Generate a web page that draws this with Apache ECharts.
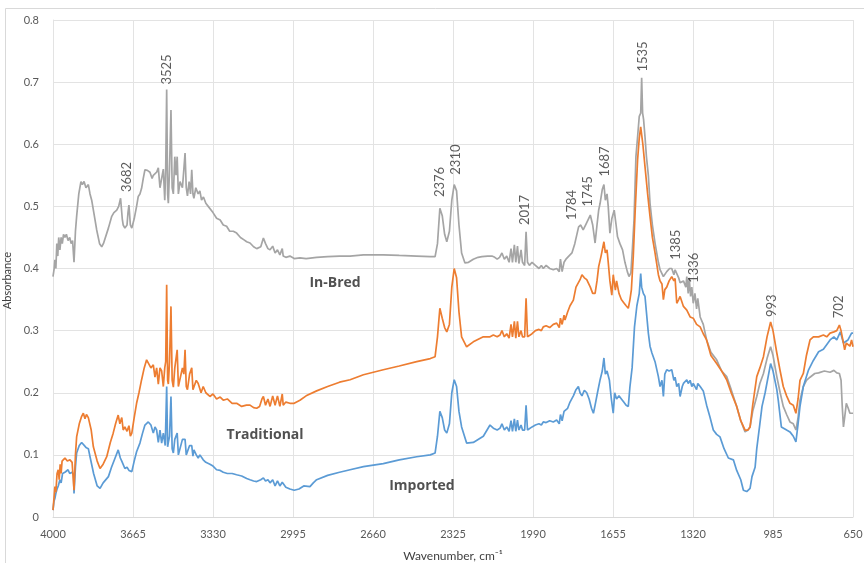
<!DOCTYPE html>
<html>
<head>
<meta charset="utf-8">
<script src="https://cdn.jsdelivr.net/npm/echarts@6/dist/echarts.min.js"></script>
<style>
html,body{margin:0;padding:0;background:#fff;}
#chart{width:864px;height:563px;}
</style>
</head>
<body>
<div id="chart"></div>
<script>
// ---------- data ----------
const xTickValues = [4000, 3665, 3330, 2995, 2660, 2325, 1990, 1655, 1320, 985, 650];
const yTickValues = [0, 0.1, 0.2, 0.3, 0.4, 0.5, 0.6, 0.7, 0.8];

const inBred = [[4000,0.387],[3995,0.40],[3992,0.414],[3988,0.40],[3984,0.44],[3980,0.42],[3976,0.45],[3971,0.43],[3966,0.45],[3961,0.44],[3956,0.455],[3950,0.45],[3944,0.455],[3937,0.445],[3930,0.45],[3924,0.44],[3918,0.445],[3912,0.41],[3906,0.46],[3901,0.484],[3892,0.52],[3883,0.54],[3877,0.535],[3870,0.54],[3862,0.53],[3852,0.535],[3845,0.52],[3838,0.51],[3827,0.485],[3817,0.462],[3805,0.44],[3796,0.435],[3789,0.44],[3782,0.44],[3768,0.465],[3754,0.484],[3745,0.49],[3733,0.494],[3725,0.50],[3717,0.513],[3710,0.48],[3706,0.47],[3699,0.465],[3690,0.47],[3686,0.49],[3682,0.502],[3676,0.47],[3670,0.465],[3660,0.48],[3650,0.50],[3643,0.516],[3636,0.52],[3629,0.529],[3622,0.545],[3615,0.559],[3605,0.558],[3594,0.555],[3585,0.545],[3580,0.55],[3573,0.548],[3566,0.555],[3559,0.562],[3552,0.53],[3545,0.527],[3538,0.56],[3532,0.51],[3528,0.56],[3524,0.688],[3520,0.52],[3517,0.505],[3512,0.56],[3506,0.655],[3501,0.53],[3496,0.52],[3490,0.58],[3485,0.55],[3480,0.58],[3475,0.52],[3468,0.54],[3458,0.53],[3452,0.56],[3447,0.586],[3442,0.53],[3437,0.517],[3430,0.54],[3424,0.52],[3419,0.559],[3414,0.52],[3410,0.513],[3402,0.53],[3392,0.52],[3385,0.525],[3378,0.51],[3370,0.515],[3360,0.505],[3350,0.50],[3343,0.497],[3330,0.49],[3315,0.481],[3300,0.478],[3287,0.47],[3273,0.468],[3260,0.46],[3245,0.46],[3231,0.457],[3215,0.45],[3200,0.446],[3189,0.443],[3175,0.441],[3160,0.435],[3147,0.432],[3130,0.435],[3119,0.449],[3110,0.44],[3100,0.432],[3091,0.43],[3080,0.436],[3070,0.425],[3060,0.43],[3050,0.422],[3040,0.432],[3036,0.42],[3025,0.418],[3008,0.42],[2990,0.416],[2966,0.417],[2940,0.416],[2896,0.418],[2850,0.419],[2800,0.42],[2756,0.42],[2700,0.422],[2617,0.422],[2550,0.421],[2477,0.42],[2420,0.419],[2400,0.419],[2390,0.44],[2380,0.497],[2370,0.485],[2360,0.455],[2351,0.443],[2340,0.46],[2330,0.51],[2320,0.535],[2310,0.525],[2300,0.47],[2289,0.425],[2275,0.409],[2260,0.41],[2240,0.415],[2220,0.418],[2204,0.419],[2180,0.42],[2162,0.42],[2150,0.418],[2140,0.415],[2130,0.418],[2120,0.425],[2110,0.415],[2100,0.42],[2090,0.41],[2082,0.432],[2076,0.41],[2068,0.438],[2062,0.41],[2055,0.436],[2049,0.408],[2040,0.43],[2034,0.41],[2025,0.405],[2019,0.459],[2013,0.41],[2005,0.405],[1994,0.41],[1980,0.405],[1965,0.40],[1955,0.405],[1947,0.40],[1935,0.405],[1920,0.40],[1905,0.398],[1891,0.40],[1880,0.395],[1875,0.415],[1868,0.395],[1860,0.41],[1852,0.415],[1840,0.42],[1827,0.425],[1815,0.44],[1799,0.467],[1790,0.47],[1780,0.462],[1770,0.47],[1760,0.478],[1750,0.486],[1740,0.47],[1730,0.441],[1722,0.47],[1715,0.494],[1709,0.505],[1700,0.527],[1693,0.535],[1687,0.51],[1680,0.52],[1675,0.50],[1668,0.457],[1660,0.48],[1650,0.494],[1642,0.47],[1636,0.451],[1626,0.44],[1615,0.43],[1605,0.41],[1595,0.395],[1588,0.387],[1580,0.393],[1574,0.43],[1567,0.478],[1559,0.58],[1552,0.612],[1545,0.645],[1539,0.65],[1535,0.707],[1531,0.65],[1527,0.64],[1521,0.612],[1515,0.58],[1507,0.55],[1500,0.505],[1490,0.47],[1479,0.441],[1465,0.41],[1458,0.398],[1444,0.387],[1430,0.395],[1418,0.40],[1409,0.40],[1400,0.39],[1395,0.398],[1388,0.40],[1380,0.385],[1374,0.377],[1360,0.38],[1350,0.37],[1346,0.387],[1340,0.36],[1336,0.385],[1330,0.355],[1325,0.37],[1319,0.344],[1312,0.36],[1305,0.335],[1300,0.352],[1290,0.322],[1277,0.31],[1263,0.285],[1245,0.265],[1221,0.253],[1200,0.235],[1179,0.226],[1160,0.205],[1137,0.178],[1120,0.155],[1102,0.137],[1090,0.14],[1081,0.145],[1070,0.17],[1053,0.194],[1040,0.215],[1025,0.231],[1010,0.255],[995,0.274],[985,0.26],[969,0.226],[955,0.20],[942,0.178],[928,0.165],[914,0.153],[900,0.15],[889,0.14],[880,0.16],[872,0.188],[858,0.21],[845,0.22],[830,0.225],[810,0.231],[794,0.232],[770,0.235],[746,0.233],[730,0.236],[718,0.232],[707,0.231],[700,0.22],[695,0.178],[690,0.145],[685,0.16],[678,0.183],[670,0.175],[663,0.167],[656,0.17],[650,0.167]];

const traditional = [[4000,0.011],[3996,0.03],[3992,0.049],[3988,0.04],[3983,0.07],[3978,0.076],[3974,0.06],[3970,0.085],[3966,0.07],[3962,0.09],[3958,0.092],[3950,0.095],[3940,0.09],[3929,0.092],[3920,0.088],[3914,0.085],[3912,0.043],[3906,0.10],[3901,0.129],[3890,0.15],[3880,0.162],[3873,0.167],[3866,0.158],[3860,0.165],[3852,0.16],[3840,0.14],[3831,0.113],[3815,0.09],[3803,0.078],[3790,0.085],[3775,0.097],[3760,0.12],[3748,0.135],[3738,0.15],[3727,0.164],[3720,0.15],[3712,0.16],[3706,0.14],[3699,0.145],[3690,0.138],[3682,0.147],[3676,0.13],[3670,0.135],[3660,0.16],[3650,0.183],[3640,0.20],[3629,0.221],[3618,0.24],[3608,0.253],[3600,0.25],[3590,0.24],[3580,0.245],[3573,0.225],[3566,0.24],[3559,0.214],[3552,0.24],[3545,0.235],[3538,0.21],[3532,0.24],[3528,0.25],[3524,0.374],[3520,0.22],[3517,0.214],[3512,0.25],[3506,0.339],[3501,0.22],[3496,0.209],[3490,0.24],[3480,0.269],[3475,0.21],[3468,0.209],[3458,0.24],[3452,0.23],[3447,0.269],[3442,0.21],[3437,0.205],[3428,0.23],[3419,0.24],[3414,0.205],[3410,0.204],[3400,0.22],[3392,0.215],[3380,0.20],[3371,0.21],[3360,0.20],[3343,0.194],[3330,0.198],[3315,0.19],[3300,0.193],[3287,0.188],[3270,0.19],[3250,0.183],[3231,0.183],[3210,0.178],[3190,0.18],[3175,0.18],[3160,0.176],[3147,0.175],[3135,0.178],[3125,0.19],[3119,0.194],[3110,0.18],[3100,0.19],[3091,0.178],[3080,0.195],[3070,0.18],[3060,0.195],[3050,0.178],[3040,0.198],[3036,0.18],[3025,0.185],[3008,0.183],[2990,0.183],[2966,0.188],[2940,0.195],[2896,0.203],[2850,0.21],[2800,0.217],[2756,0.221],[2700,0.229],[2617,0.237],[2550,0.243],[2477,0.25],[2420,0.255],[2400,0.258],[2390,0.29],[2380,0.336],[2370,0.32],[2360,0.305],[2351,0.298],[2340,0.31],[2330,0.37],[2320,0.40],[2310,0.385],[2300,0.33],[2289,0.29],[2268,0.274],[2240,0.282],[2198,0.29],[2170,0.29],[2156,0.293],[2140,0.29],[2128,0.293],[2120,0.30],[2110,0.29],[2100,0.295],[2090,0.288],[2082,0.31],[2076,0.29],[2068,0.315],[2062,0.288],[2055,0.315],[2049,0.29],[2040,0.30],[2034,0.29],[2025,0.29],[2019,0.352],[2013,0.29],[2005,0.29],[1994,0.295],[1980,0.30],[1965,0.302],[1955,0.30],[1947,0.306],[1935,0.308],[1920,0.305],[1905,0.31],[1891,0.312],[1880,0.305],[1875,0.32],[1868,0.31],[1860,0.325],[1856,0.317],[1845,0.33],[1835,0.34],[1821,0.349],[1810,0.37],[1793,0.382],[1785,0.39],[1775,0.385],[1765,0.382],[1750,0.37],[1740,0.36],[1730,0.36],[1722,0.38],[1715,0.403],[1705,0.42],[1693,0.443],[1687,0.425],[1680,0.43],[1675,0.41],[1668,0.38],[1660,0.357],[1654,0.39],[1645,0.365],[1640,0.38],[1630,0.36],[1620,0.35],[1610,0.345],[1600,0.34],[1591,0.336],[1584,0.35],[1578,0.366],[1570,0.42],[1562,0.494],[1552,0.575],[1545,0.61],[1539,0.628],[1535,0.63],[1530,0.60],[1521,0.564],[1510,0.52],[1500,0.484],[1490,0.45],[1479,0.425],[1465,0.39],[1458,0.38],[1450,0.375],[1444,0.35],[1438,0.366],[1430,0.37],[1420,0.38],[1409,0.387],[1400,0.38],[1395,0.384],[1388,0.344],[1380,0.35],[1374,0.355],[1360,0.339],[1346,0.333],[1332,0.322],[1319,0.32],[1305,0.31],[1290,0.306],[1277,0.295],[1263,0.285],[1245,0.26],[1221,0.247],[1200,0.235],[1179,0.221],[1160,0.20],[1137,0.178],[1120,0.155],[1102,0.14],[1090,0.14],[1081,0.145],[1070,0.18],[1053,0.226],[1040,0.24],[1025,0.258],[1010,0.29],[995,0.314],[985,0.30],[969,0.264],[955,0.235],[942,0.21],[928,0.195],[914,0.183],[900,0.18],[889,0.167],[880,0.19],[872,0.22],[858,0.231],[845,0.26],[830,0.285],[816,0.29],[794,0.29],[774,0.293],[760,0.29],[746,0.296],[730,0.298],[718,0.30],[707,0.309],[700,0.30],[690,0.28],[685,0.269],[678,0.28],[671,0.28],[663,0.275],[656,0.285],[650,0.274]];

const imported = [[4000,0.011],[3996,0.025],[3992,0.03],[3988,0.038],[3983,0.045],[3978,0.05],[3971,0.06],[3966,0.055],[3960,0.07],[3950,0.072],[3937,0.076],[3930,0.07],[3920,0.072],[3914,0.068],[3912,0.038],[3906,0.08],[3901,0.103],[3890,0.115],[3880,0.12],[3873,0.119],[3862,0.112],[3852,0.11],[3845,0.097],[3830,0.07],[3815,0.05],[3803,0.046],[3790,0.055],[3768,0.065],[3755,0.08],[3740,0.095],[3727,0.108],[3718,0.095],[3712,0.09],[3699,0.078],[3690,0.08],[3682,0.075],[3670,0.073],[3660,0.09],[3650,0.105],[3636,0.119],[3625,0.135],[3615,0.148],[3601,0.153],[3590,0.148],[3580,0.135],[3573,0.145],[3566,0.14],[3559,0.12],[3552,0.14],[3545,0.119],[3538,0.135],[3530,0.115],[3524,0.21],[3520,0.113],[3517,0.12],[3512,0.13],[3506,0.194],[3501,0.11],[3496,0.103],[3490,0.125],[3480,0.135],[3475,0.10],[3468,0.103],[3458,0.125],[3447,0.125],[3442,0.10],[3437,0.10],[3428,0.115],[3419,0.115],[3414,0.098],[3410,0.108],[3400,0.10],[3392,0.095],[3385,0.10],[3371,0.092],[3360,0.088],[3343,0.085],[3330,0.082],[3315,0.076],[3300,0.075],[3287,0.072],[3270,0.07],[3250,0.07],[3231,0.068],[3210,0.066],[3189,0.062],[3175,0.06],[3160,0.058],[3147,0.057],[3130,0.06],[3119,0.063],[3110,0.058],[3100,0.06],[3091,0.055],[3080,0.06],[3070,0.05],[3060,0.058],[3050,0.05],[3040,0.056],[3036,0.054],[3025,0.048],[3008,0.045],[2990,0.043],[2970,0.045],[2950,0.05],[2924,0.049],[2910,0.055],[2896,0.06],[2850,0.067],[2800,0.072],[2756,0.076],[2700,0.081],[2617,0.086],[2550,0.092],[2477,0.097],[2420,0.10],[2400,0.103],[2390,0.13],[2380,0.17],[2370,0.16],[2360,0.14],[2351,0.135],[2340,0.15],[2330,0.20],[2320,0.221],[2310,0.21],[2300,0.17],[2289,0.145],[2268,0.119],[2240,0.12],[2198,0.13],[2170,0.148],[2156,0.143],[2140,0.14],[2128,0.143],[2120,0.15],[2110,0.14],[2100,0.145],[2090,0.138],[2082,0.155],[2076,0.138],[2068,0.158],[2062,0.138],[2055,0.156],[2049,0.14],[2040,0.148],[2034,0.14],[2025,0.14],[2019,0.18],[2013,0.14],[2005,0.142],[1994,0.145],[1980,0.148],[1965,0.15],[1955,0.148],[1947,0.153],[1935,0.152],[1920,0.155],[1905,0.153],[1891,0.156],[1880,0.15],[1875,0.165],[1868,0.155],[1860,0.17],[1856,0.168],[1845,0.175],[1835,0.185],[1821,0.195],[1810,0.205],[1800,0.21],[1793,0.20],[1785,0.195],[1775,0.204],[1765,0.20],[1755,0.19],[1745,0.175],[1737,0.167],[1730,0.18],[1720,0.20],[1709,0.221],[1700,0.235],[1693,0.256],[1687,0.23],[1680,0.235],[1670,0.22],[1662,0.19],[1654,0.167],[1648,0.20],[1640,0.19],[1630,0.195],[1620,0.19],[1610,0.185],[1600,0.18],[1591,0.178],[1584,0.21],[1575,0.24],[1565,0.306],[1555,0.34],[1545,0.36],[1539,0.392],[1535,0.37],[1528,0.36],[1521,0.355],[1507,0.296],[1500,0.275],[1492,0.264],[1479,0.25],[1465,0.226],[1458,0.21],[1450,0.22],[1444,0.194],[1438,0.23],[1430,0.237],[1420,0.235],[1409,0.237],[1400,0.22],[1395,0.225],[1388,0.21],[1380,0.215],[1374,0.194],[1365,0.21],[1360,0.215],[1346,0.221],[1340,0.215],[1332,0.22],[1325,0.21],[1319,0.215],[1305,0.205],[1300,0.215],[1290,0.21],[1277,0.203],[1263,0.18],[1249,0.161],[1235,0.14],[1221,0.133],[1207,0.129],[1190,0.11],[1172,0.095],[1151,0.092],[1137,0.075],[1120,0.06],[1109,0.043],[1095,0.041],[1081,0.046],[1073,0.065],[1060,0.08],[1053,0.11],[1040,0.15],[1031,0.178],[1018,0.20],[995,0.247],[985,0.235],[969,0.205],[963,0.188],[950,0.145],[942,0.145],[928,0.14],[914,0.137],[900,0.13],[889,0.121],[880,0.15],[872,0.178],[858,0.21],[845,0.226],[836,0.237],[816,0.252],[794,0.266],[774,0.27],[746,0.285],[730,0.29],[718,0.285],[703,0.298],[690,0.28],[685,0.282],[671,0.285],[663,0.288],[656,0.296],[650,0.296]];

// peak annotations: label text, wavenumber, absorbance where label starts
const peakLabels = ['3682','3525','2376','2310','2017','1784','1745','1687','1535','1385','1336','993','702'];
const peakWavenumbers = [3690, 3523, 2380, 2312, 2023, 1827, 1760, 1690, 1531, 1391, 1317, 989, 710];
const peakLevels = [0.523, 0.696, 0.515, 0.551, 0.47, 0.478, 0.50, 0.548, 0.717, 0.414, 0.377, 0.322, 0.32];

// series name annotations
const seriesNames = ['In-Bred', 'Traditional', 'Imported'];
const seriesNameWavenumbers = [2819, 3112, 2455];
const seriesNameLevels = [0.377, 0.132, 0.05];

// ---------- chart ----------
const chart = echarts.init(document.getElementById('chart'), null, {renderer: 'canvas'});
const FONT = 'Lato, "Open Sans", sans-serif';

const peakData = peakLabels.map((t, i) => ({value: [peakWavenumbers[i], peakLevels[i]], name: t}));
const nameData = seriesNames.map((t, i) => ({value: [seriesNameWavenumbers[i], seriesNameLevels[i]], name: t}));

chart.setOption({
  animation: false,
  backgroundColor: '#ffffff',
  grid: {left: 53, right: 11, top: 20, bottom: 46, containLabel: false, outerBoundsMode: 'none'},
  xAxis: {
    type: 'value', inverse: true, min: 650, max: 4000, interval: 335,
    name: 'Wavenumber, cm\u207B\u00B9', nameLocation: 'middle', nameGap: 33,
    nameTextStyle: {fontFamily: FONT, fontSize: 12, color: '#404040'},
    axisLine: {show: true, lineStyle: {color: '#d9d9d9'}},
    axisTick: {show: false},
    axisLabel: {fontFamily: FONT, fontSize: 11, color: '#595959', margin: 12,
      formatter: v => String(Math.round(v))},
    splitLine: {show: true, lineStyle: {color: '#e3e3e3', width: 1}}
  },
  yAxis: {
    type: 'value', min: 0, max: 0.8, interval: 0.1,
    name: 'Absorbance', nameLocation: 'middle', nameGap: 33,
    nameTextStyle: {fontFamily: FONT, fontSize: 11, color: '#404040', padding: [0, 24, 0, 0]},
    axisLine: {show: true, lineStyle: {color: '#e3e3e3'}},
    axisTick: {show: false},
    axisLabel: {fontFamily: FONT, fontSize: 11, color: '#595959', margin: 14,
      formatter: v => (Math.round(v * 10) / 10).toString()},
    splitLine: {show: true, lineStyle: {color: '#e3e3e3', width: 1}}
  },
  graphic: [{
    type: 'rect', silent: true, z: -10,
    shape: {x: 5.5, y: 8.5, width: 880, height: 580},
    style: {fill: 'none', stroke: '#d9d9d9', lineWidth: 1}
  }],
  series: [
    {name: 'In-Bred', type: 'line', data: inBred, showSymbol: false, symbol: 'none',
     lineStyle: {color: '#a5a5a5', width: 1.7}, itemStyle: {color: '#a5a5a5'}, z: 2},
    {name: 'Imported', type: 'line', data: imported, showSymbol: false, symbol: 'none',
     lineStyle: {color: '#5b9bd5', width: 1.7}, itemStyle: {color: '#5b9bd5'}, z: 3},
    {name: 'Traditional', type: 'line', data: traditional, showSymbol: false, symbol: 'none',
     lineStyle: {color: '#ed7d31', width: 1.7}, itemStyle: {color: '#ed7d31'}, z: 4},
    {name: 'peaks', type: 'scatter', data: peakData, symbolSize: 2,
     itemStyle: {color: 'rgba(0,0,0,0)'}, z: 5, silent: true,
     label: {show: true, position: 'inside', rotate: 90, align: 'left', verticalAlign: 'middle',
       formatter: p => p.name, fontFamily: FONT, fontSize: 13, color: '#333333'}},
    {name: 'names', type: 'scatter', data: nameData, symbolSize: 2,
     itemStyle: {color: 'rgba(0,0,0,0)'}, z: 5, silent: true,
     label: {show: true, position: 'inside', align: 'center', verticalAlign: 'middle',
       formatter: p => p.name, fontFamily: '"Open Sans", sans-serif', fontSize: 14, fontWeight: 'bold', color: '#262626'}}
  ]
});
</script>
</body>
</html>
